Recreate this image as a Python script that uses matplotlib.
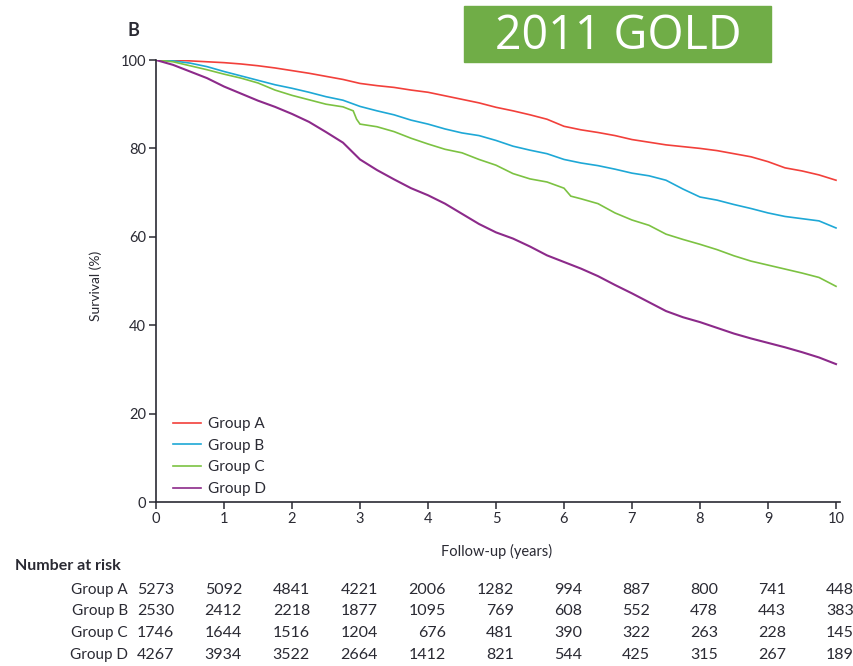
import matplotlib
matplotlib.use('Agg')
import matplotlib.pyplot as plt
import matplotlib.transforms as mtransforms
from matplotlib.patches import Rectangle

plt.rcParams['font.family'] = ['Lato', 'DejaVu Sans']

# ---- data -------------------------------------------------------------
groups = ['Group A', 'Group B', 'Group C', 'Group D']
colors = ['#F2403B', '#1EA8D6', '#7CC242', '#8C2A8A']

years_a = [0, 0.25, 0.5, 0.75, 1.0, 1.25, 1.5, 1.75, 2.0, 2.25, 2.5, 2.75, 3.0,
           3.25, 3.5, 3.75, 4.0, 4.25, 4.5, 4.75, 5.0, 5.25, 5.5, 5.75, 6.0,
           6.25, 6.5, 6.75, 7.0, 7.25, 7.5, 7.75, 8.0, 8.25, 8.5, 8.75, 9.0,
           9.25, 9.5, 9.75, 10.0]
surv_a = [100, 100, 99.8, 99.6, 99.4, 99.1, 98.7, 98.2, 97.6, 97.0, 96.3, 95.6,
          94.7, 94.2, 93.8, 93.2, 92.7, 91.9, 91.1, 90.3, 89.3, 88.5, 87.6,
          86.6, 85.0, 84.2, 83.6, 82.9, 82.0, 81.4, 80.8, 80.4, 80.0, 79.5,
          78.8, 78.1, 77.0, 75.6, 74.9, 74.0, 72.8]

years_b = years_a
surv_b = [100, 99.8, 99.3, 98.5, 97.4, 96.4, 95.4, 94.4, 93.6, 92.7, 91.7, 90.9,
          89.5, 88.5, 87.6, 86.4, 85.5, 84.4, 83.5, 82.9, 81.8, 80.5, 79.6,
          78.8, 77.5, 76.7, 76.1, 75.3, 74.4, 73.8, 72.8, 70.8, 69.0, 68.3,
          67.3, 66.4, 65.4, 64.6, 64.1, 63.6, 62.0]

years_c = [0, 0.25, 0.5, 0.75, 1.0, 1.25, 1.5, 1.75, 2.0, 2.25, 2.5, 2.75, 2.9,
           2.95, 3.0, 3.25, 3.5, 3.75, 4.0, 4.25, 4.5, 4.75, 5.0, 5.25, 5.5,
           5.75, 6.0, 6.1, 6.25, 6.5, 6.75, 7.0, 7.25, 7.5, 7.75, 8.0, 8.25,
           8.5, 8.75, 9.0, 9.25, 9.5, 9.75, 10.0]
surv_c = [100, 99.6, 98.7, 97.8, 96.8, 95.9, 94.8, 93.2, 92.0, 91.0, 90.0, 89.4,
          88.5, 86.6, 85.5, 84.9, 83.8, 82.3, 81.0, 79.8, 79.0, 77.5, 76.2,
          74.3, 73.1, 72.4, 71.0, 69.2, 68.6, 67.5, 65.4, 63.8, 62.6, 60.6,
          59.4, 58.3, 57.1, 55.7, 54.5, 53.6, 52.7, 51.8, 50.8, 48.8]

years_d = years_a
surv_d = [100, 98.9, 97.4, 95.9, 94.0, 92.4, 90.8, 89.4, 87.8, 86.0, 83.7, 81.3,
          77.5, 75.1, 73.0, 71.0, 69.4, 67.5, 65.2, 62.9, 61.0, 59.6, 57.8,
          55.8, 54.3, 52.8, 51.1, 49.1, 47.2, 45.2, 43.2, 41.8, 40.7, 39.4,
          38.1, 37.0, 36.0, 35.0, 33.9, 32.7, 31.2]

risk_years = [0, 1, 2, 3, 4, 5, 6, 7, 8, 9, 10]
risk_a = [5273, 5092, 4841, 4221, 2006, 1282, 994, 887, 800, 741, 448]
risk_b = [2530, 2412, 2218, 1877, 1095, 769, 608, 552, 478, 443, 383]
risk_c = [1746, 1644, 1516, 1204, 676, 481, 390, 322, 263, 228, 145]
risk_d = [4267, 3934, 3522, 2664, 1412, 821, 544, 425, 315, 267, 189]

x_ticks = [0, 1, 2, 3, 4, 5, 6, 7, 8, 9, 10]
y_ticks = [0, 20, 40, 60, 80, 100]

# ---- figure -----------------------------------------------------------
W, H = 854, 666
fig = plt.figure(figsize=(W / 100, H / 100), dpi=100)
ink = '#2a2a33'

ax = fig.add_axes([156 / W, 1 - 502 / H, 684 / W, 442 / H])
series = [(years_a, surv_a), (years_b, surv_b), (years_c, surv_c), (years_d, surv_d)]
for (xs, ys), name, col in zip(series, groups, colors):
    lw = 1.5 if name == 'Group D' else 1.2
    ax.plot(xs, ys, color=col, lw=lw, label=name, solid_joinstyle='miter')

ax.set_xlim(0, 684 / 68)
ax.set_ylim(0, 100)
ax.set_xticks(x_ticks)
ax.set_yticks(y_ticks)
for s in ['top', 'right']:
    ax.spines[s].set_visible(False)
for s in ['left', 'bottom']:
    ax.spines[s].set_linewidth(1.2)
    ax.spines[s].set_color(ink)
ax.tick_params(direction='out', length=5, width=1.1, color=ink,
               labelcolor=ink, labelsize=10.5, pad=2)

leg = ax.legend(loc='lower left', bbox_to_anchor=(17 / 684, 6 / 442),
                frameon=False, fontsize=11, handlelength=1.85,
                handletextpad=0.42, labelspacing=0.5, borderpad=0,
                borderaxespad=0)
for t in leg.get_texts():
    t.set_color(ink)
for h in leg.get_lines():
    h.set_linewidth(1.2)

fig.text(96 / W, 1 - 286 / H, 'Survival (%)', rotation=90, ha='center',
         va='center', fontsize=10, color=ink)
fig.text(497 / W, 1 - 551 / H, 'Follow-up (years)', ha='center',
         va='center', fontsize=10.5, color=ink)
fig.text(133 / W, 1 - 31 / H, 'B', ha='center', va='center',
         fontsize=13, fontweight='bold', color=ink)

# title badge
fig.patches.append(Rectangle((464 / W, 1 - 62 / H), 307 / W, 56 / H,
                             transform=fig.transFigure, color='#70AD47',
                             zorder=0))
fig.text(618 / W, 1 - 36 / H, '2011 GOLD', ha='center', va='center',
         fontsize=33.5, color='white', family=['Open Sans', 'DejaVu Sans'])

# number at risk table
fig.text(15 / W, 1 - 566 / H, 'Number at risk', ha='left', va='center',
         fontsize=11.5, fontweight='bold', color=ink)
row_y = [590, 611, 633, 655]
rows = [risk_a, risk_b, risk_c, risk_d]
col_tr = mtransforms.blended_transform_factory(ax.transData, fig.transFigure)
col_tr = col_tr + mtransforms.ScaledTranslation(18 / 100, 0, fig.dpi_scale_trans)
for name, counts, py in zip(groups, rows, row_y):
    fig.text(128 / W, 1 - py / H, name, ha='right', va='center',
             fontsize=11, color=ink)
    for yr, n in zip(risk_years, counts):
        ax.text(yr, 1 - py / H, str(n), transform=col_tr, ha='right',
                va='center', fontsize=11.5, color=ink, clip_on=False)

fig.savefig('out.png', dpi=100)
